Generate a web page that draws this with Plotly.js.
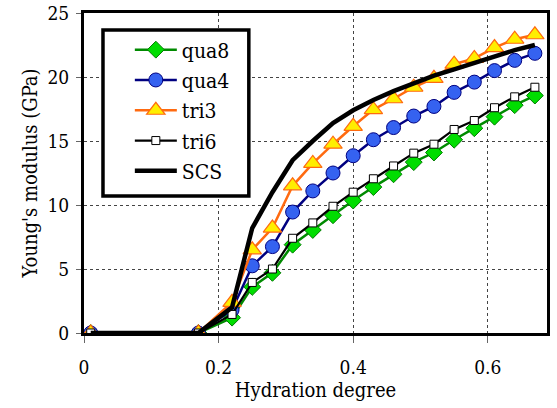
<!DOCTYPE html>
<html>
<head>
<meta charset="utf-8">
<script src="https://cdn.plot.ly/plotly-3.0.1.min.js"></script>
<style>html,body{margin:0;padding:0;background:#fff;}#chart{width:557px;height:408px;}</style>
</head>
<body>
<div id="chart"></div>
<script>
const hydration = [0.01, 0.17, 0.22, 0.25, 0.28, 0.31, 0.34, 0.37, 0.40, 0.43, 0.46, 0.49, 0.52, 0.55, 0.58, 0.61, 0.64, 0.67];
const qua8 = [0, 0, 1.2, 3.6, 4.7, 6.9, 8.05, 9.2, 10.35, 11.4, 12.4, 13.35, 14.1, 15.1, 16.0, 16.9, 17.8, 18.55];
const qua4 = [0, 0, 1.8, 5.25, 6.75, 9.45, 11.1, 12.5, 13.85, 15.1, 16.05, 16.95, 17.7, 18.8, 19.6, 20.5, 21.3, 21.85];
const tri3 = [0, 0, 2.4, 6.5, 8.2, 11.5, 13.25, 14.75, 16.15, 17.45, 18.3, 19.2, 19.9, 21.0, 21.45, 22.3, 22.95, 23.3];
const tri6 = [0, 0, 1.45, 3.95, 5.0, 7.4, 8.6, 9.9, 11.0, 12.05, 13.05, 14.05, 14.75, 15.9, 16.6, 17.6, 18.45, 19.2];
const scs  = [0, 0, 2.0, 8.2, 11.0, 13.5, 15.0, 16.4, 17.4, 18.2, 18.9, 19.5, 20.1, 20.6, 21.1, 21.6, 22.1, 22.5];
const seriesNames = ["qua8", "qua4", "tri3", "tri6", "SCS"];

const FONT = "DejaVu Serif Condensed, DejaVu Serif, serif";

const traces = [
  {x: hydration, y: qua8, name: seriesNames[0], mode: "lines+markers",
   line: {color: "#008a00", width: 2.5},
   marker: {symbol: "diamond", size: 13, color: "#00dd00", line: {color: "#007a00", width: 1}}},
  {x: hydration, y: qua4, name: seriesNames[1], mode: "lines+markers",
   line: {color: "#000080", width: 2.5},
   marker: {symbol: "circle", size: 14, color: "#3562f0", line: {color: "#000080", width: 1}}},
  {x: hydration, y: tri3, name: seriesNames[2], mode: "lines+markers",
   line: {color: "#ff6a10", width: 2.5},
   marker: {symbol: "triangle-up", size: 16, color: "#ffee00", line: {color: "#ff6a10", width: 1.2}}},
  {x: hydration, y: tri6, name: seriesNames[3], mode: "lines+markers",
   line: {color: "#000000", width: 2.2},
   marker: {symbol: "square", size: 8, color: "#ffffff", line: {color: "#000000", width: 1}}},
  {x: hydration, y: scs, name: seriesNames[4], mode: "lines",
   line: {color: "#000000", width: 4.5}}
];

const layout = {
  width: 557, height: 408,
  margin: {l: 84, r: 10, t: 13, b: 75},
  paper_bgcolor: "#fff", plot_bgcolor: "#fff",
  font: {family: FONT, size: 19, color: "#000"},
  showlegend: true,
  legend: {
    x: 0.099, y: 0.9484, xanchor: "left", yanchor: "top",
    bgcolor: "rgba(0,0,0,0)", borderwidth: 0,
    font: {family: FONT, size: 21, color: "#000"},
    tracegroupgap: 0, itemwidth: 42
  },
  shapes: [{
    type: "rect", xref: "paper", yref: "paper", layer: "above",
    x0: 0.041, x1: 0.356, y0: 0.428, y1: 0.947,
    fillcolor: "#fff", line: {color: "#000", width: 3.5}
  }],
  xaxis: {
    range: [0, 0.688], tickvals: [0, 0.2, 0.4, 0.6], ticktext: ["0", "0.2", "0.4", "0.6"],
    showgrid: true, gridcolor: "#444", griddash: "3px,3px", gridwidth: 1,
    showline: true, linecolor: "#000", linewidth: 3, mirror: true,
    ticks: "outside", ticklen: 7, tickcolor: "#666", tickwidth: 1,
    ticklabelstandoff: 8,
    zeroline: false,
    tickfont: {family: FONT, size: 19, color: "#000"},
    title: {text: "Hydration degree", font: {family: FONT, size: 20, color: "#000"}, standoff: 4}
  },
  yaxis: {
    range: [0, 25], tickvals: [0, 5, 10, 15, 20, 25],
    showgrid: true, gridcolor: "#444", griddash: "3px,3px", gridwidth: 1,
    showline: true, linecolor: "#000", linewidth: 3, mirror: true,
    ticks: "outside", ticklen: 5, tickcolor: "#666", tickwidth: 1,
    ticklabelstandoff: 3,
    zeroline: false,
    tickfont: {family: FONT, size: 19, color: "#000"},
    title: {text: "Young's modulus (GPa)", font: {family: FONT, size: 20, color: "#000"}, standoff: 5}
  }
};

Plotly.newPlot("chart", traces, layout, {displayModeBar: false, staticPlot: true});
</script>
</body>
</html>
